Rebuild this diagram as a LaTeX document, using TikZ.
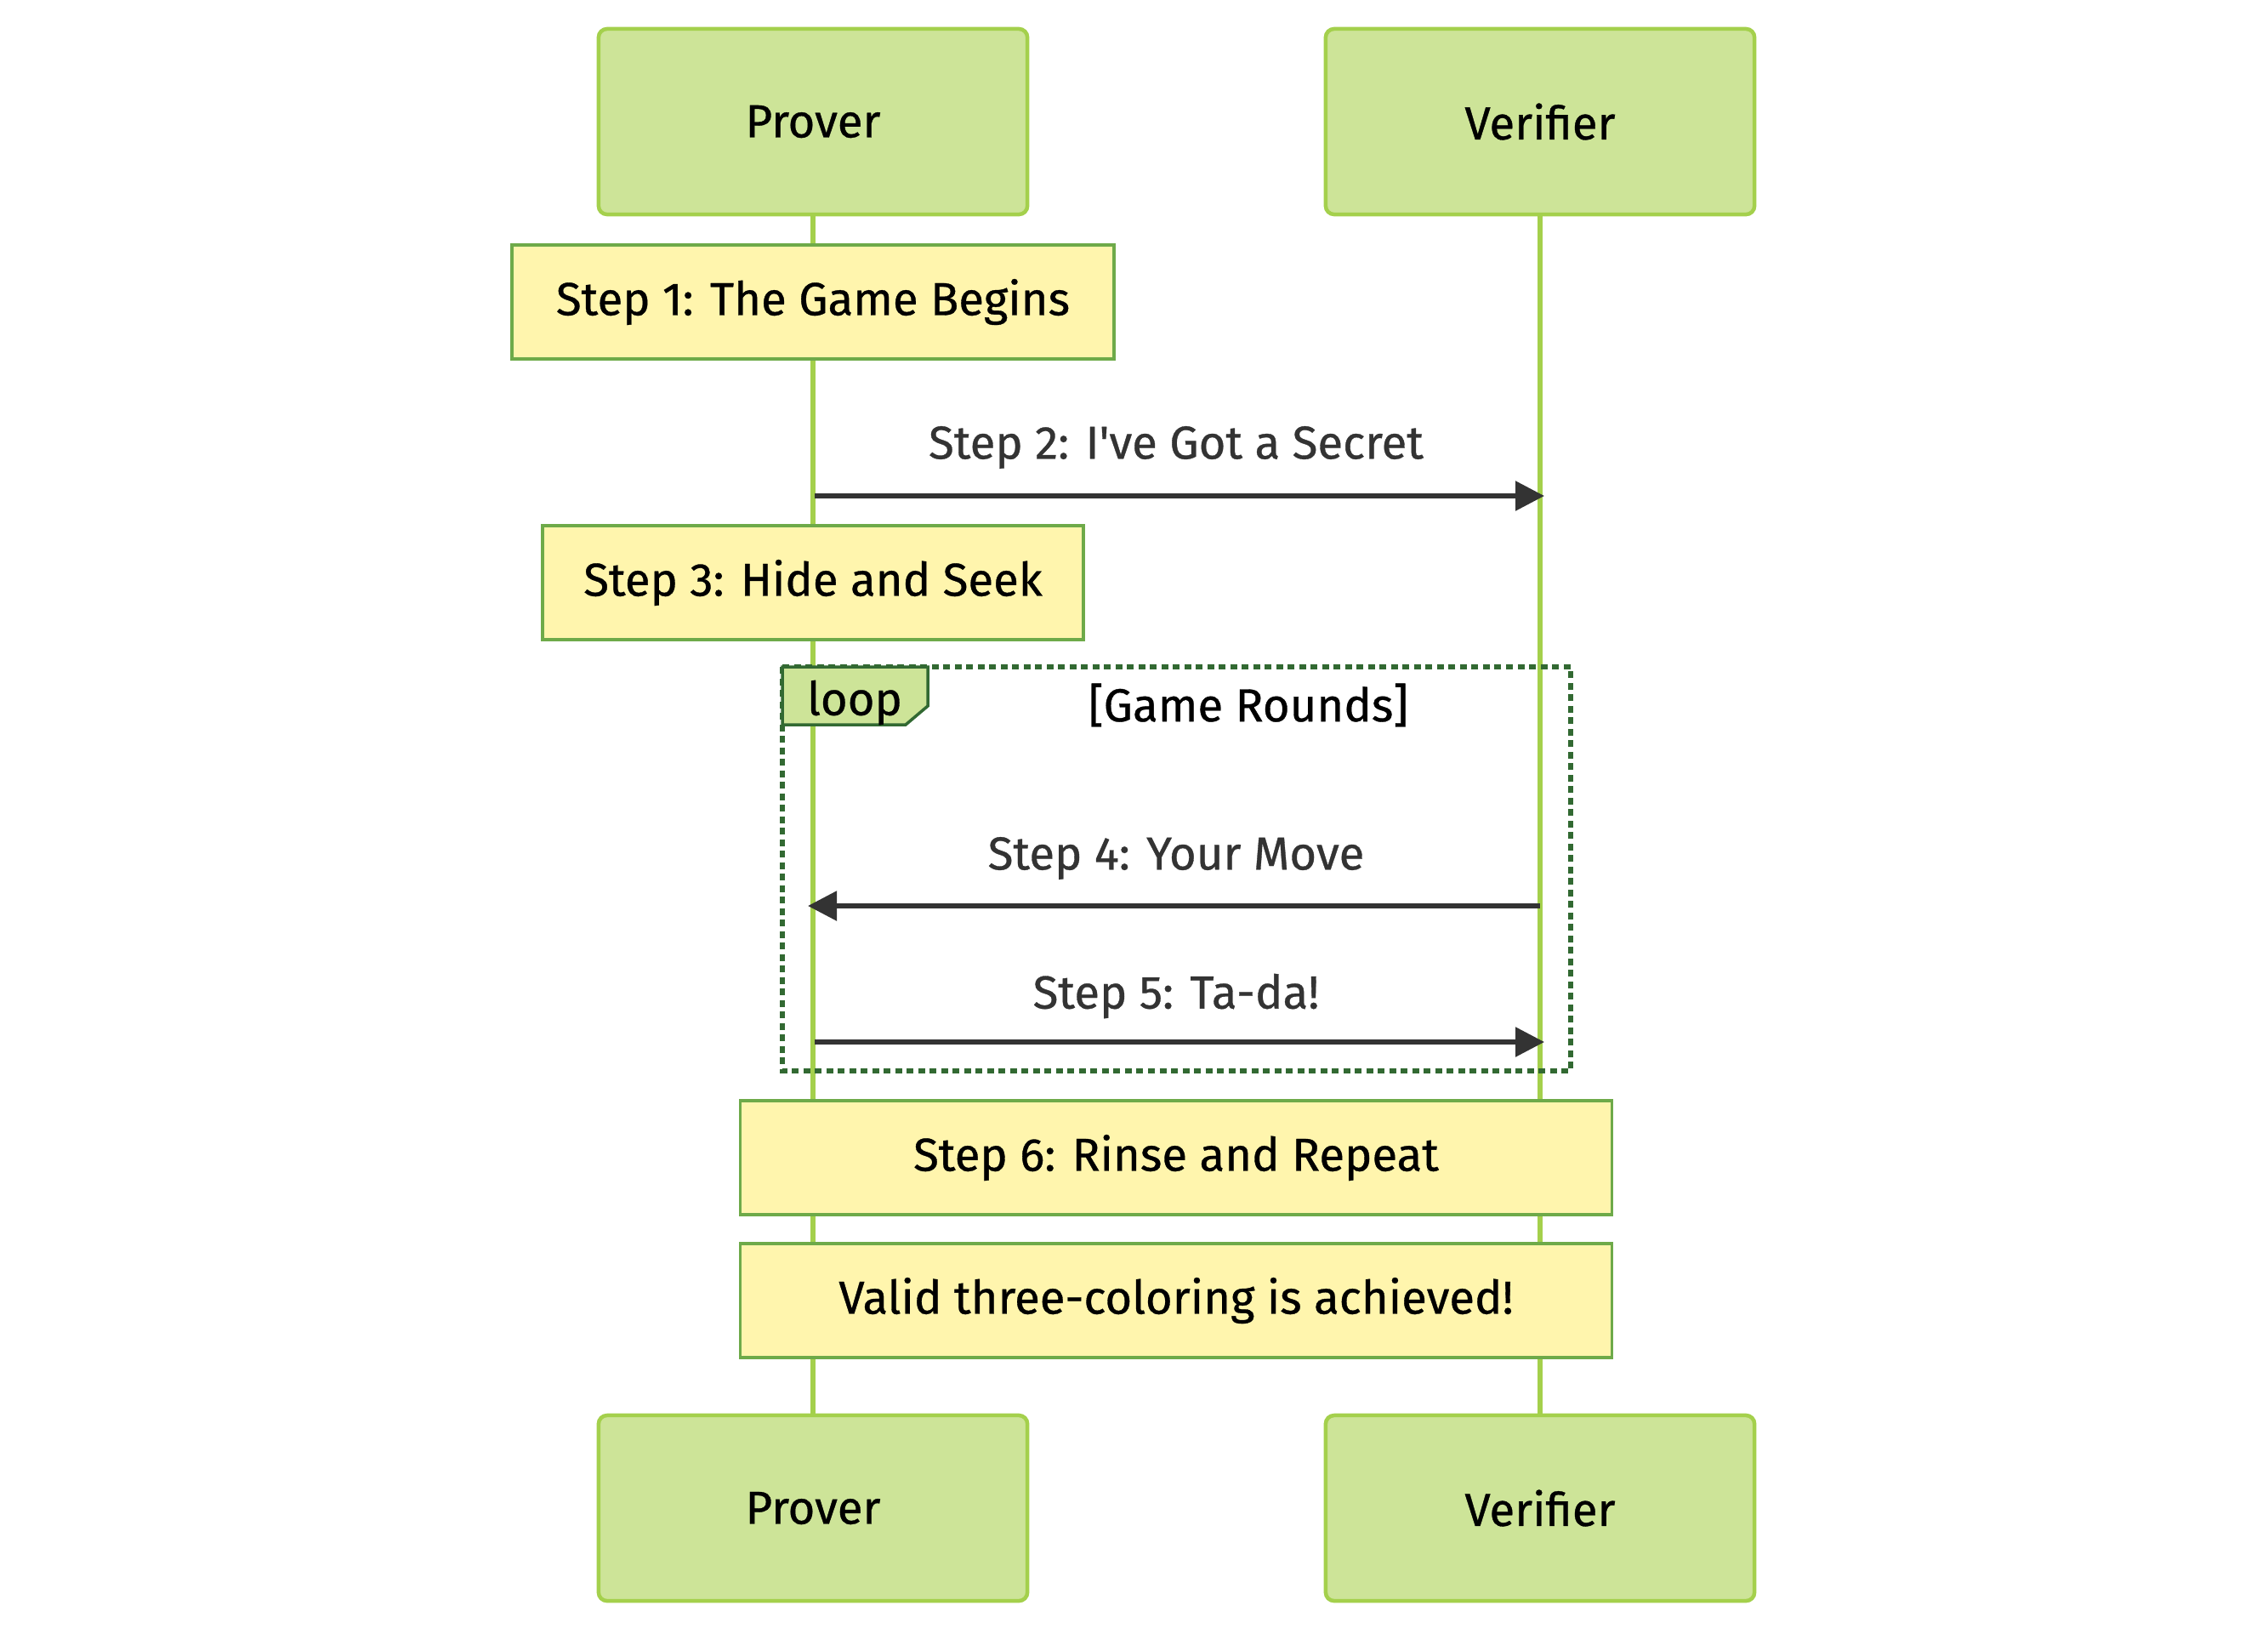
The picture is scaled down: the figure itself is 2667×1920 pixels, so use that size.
\documentclass[tikz,border=0pt]{standalone}
\usepackage{fontspec}
\setmainfont{Fira Sans}[FakeBold=0.6]
\usetikzlibrary{arrows.meta}
\definecolor{actorfill}{HTML}{CDE498}
\definecolor{actorline}{HTML}{A4D04C}
\definecolor{notefill}{HTML}{FFF5AD}
\definecolor{noteline}{HTML}{6EAA49}
\definecolor{loopline}{HTML}{326932}
\definecolor{msgcol}{HTML}{333333}

\begin{document}
\begin{tikzpicture}[x=0.01cm, y=-0.01cm,
    every node/.style={font=\fontsize{15.5}{18}\selectfont},
    actor/.style={draw=actorline, fill=actorfill, line width=0.045cm, rounded corners=0.1cm,
      minimum width=5.04cm, minimum height=2.18cm, inner sep=0pt},
    note/.style={draw=noteline, fill=notefill, line width=0.035cm,
      minimum height=1.34cm, inner sep=0pt},
    life/.style={draw=actorline, line width=0.065cm},
    msg/.style={draw=msgcol, line width=0.055cm, -{Triangle[length=0.34cm,width=0.34cm]}},
    msglabel/.style={text=msgcol, inner sep=0pt},
    loopframe/.style={draw=loopline, line width=0.065cm, dash pattern=on 0.08cm off 0.055cm},
    looptab/.style={draw=loopline, fill=actorfill, line width=0.035cm}]
  \useasboundingbox (0,0) rectangle (2667,1920);
  % Actors, top and bottom
  \node[actor] (pt) at (956,143) {Prover};
  \node[actor] (vt) at (1811,143) {Verifier};
  \node[actor] (pb) at (956,1773) {Prover};
  \node[actor] (vb) at (1811,1773) {Verifier};
  % Lifelines
  \draw[life] (pt.south) -- (pb.north);
  \draw[life] (vt.south) -- (vb.north);
  % Loop frame
  \draw[loopframe] (920,784) rectangle (1847,1259);
  \draw[looptab] (920,784) -- (1091,784) -- (1091,830) -- (1065,852) -- (920,852) -- cycle;
  \node (looptxt) at (1005,826) {loop};
  \node (cond) at (1468,829) {[Game Rounds]};
  % Notes
  \node[note, minimum width=7.08cm] (n1) at (956,355) {Step 1: The Game Begins};
  \node[note, minimum width=6.36cm] (n3) at (956,685) {Step 3: Hide and Seek};
  \node[note, minimum width=10.24cm] (n6) at (1383,1361) {Step 6: Rinse and Repeat};
  \node[note, minimum width=10.24cm] (n7) at (1383,1529) {Valid three-coloring is achieved!};
  % Messages
  \coordinate (p2) at (958,583);
  \coordinate (v2) at (1816,583);
  \coordinate (v4) at (1811,1065);
  \coordinate (p4) at (950,1065);
  \coordinate (p5) at (958,1225);
  \coordinate (v5) at (1816,1225);
  \node[msglabel] (m2) at (1383,526) {Step 2: I\textquotesingle ve Got a Secret};
  \node[msglabel] (m4) at (1383,1009) {Step 4: Your Move};
  \node[msglabel] (m5) at (1383,1171) {Step 5: Ta-da!};
  \draw[msg] (p2) -- (v2);
  \draw[msg] (v4) -- (p4);
  \draw[msg] (p5) -- (v5);
\end{tikzpicture}
\end{document}
